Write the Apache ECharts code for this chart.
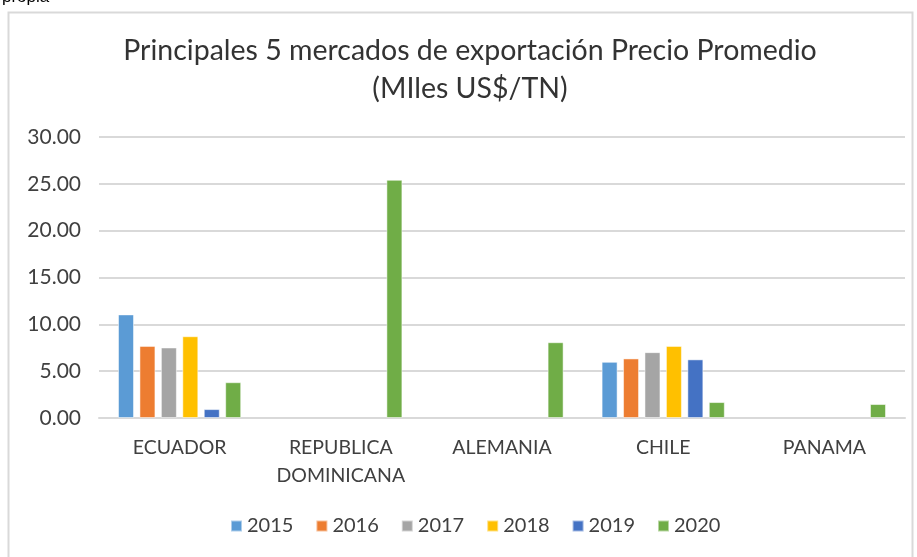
<!DOCTYPE html>
<html>
<head>
<meta charset="utf-8">
<script src="https://cdn.jsdelivr.net/npm/echarts@6/dist/echarts.min.js"></script>
<style>
  html, body { margin: 0; padding: 0; background: #fff; }
  #chart { width: 917px; height: 557px; }
</style>
</head>
<body>
<div id="chart"></div>
<script>
// mercados (eje x)
const categories = ["ECUADOR", "REPUBLICA\nDOMINICANA", "ALEMANIA", "CHILE", "PANAMA"];
const years = ["2015", "2016", "2017", "2018", "2019", "2020"];
const yTicks = [0, 5, 10, 15, 20, 25, 30];

// precio promedio (miles US$/TN) por año
const v2015 = [11.06, null, null, 6.0, null];
const v2016 = [7.7, null, null, 6.36, null];
const v2017 = [7.53, null, null, 7.03, null];
const v2018 = [8.73, null, null, 7.7, null];
const v2019 = [0.95, null, null, 6.26, null];
const v2020 = [3.82, 25.43, 8.09, 1.7, 1.49];

const seriesValues = [v2015, v2016, v2017, v2018, v2019, v2020];
const colors = ["#5B9BD5", "#ED7D31", "#A5A5A5", "#FFC000", "#4472C4", "#70AD47"];

const font = "Lato, 'Liberation Sans', sans-serif";

const chart = echarts.init(document.getElementById("chart"));

const option = {
  animation: false,
  color: colors,
  textStyle: { fontFamily: font },
  graphic: [
    {
      type: "rect",
      shape: { x: 8.5, y: 12.5, width: 904, height: 560 },
      style: { fill: "none", stroke: "#d9d9d9", lineWidth: 2 }
    },
    {
      type: "text",
      left: 2,
      top: -11,
      style: { text: "propia", font: "17px 'Liberation Sans', sans-serif", fill: "#000" }
    }
  ],
  title: {
    text: "Principales 5 mercados de exportación Precio Promedio\n(MIles US$/TN)",
    left: 470,
    top: 32,
    padding: 0,
    textAlign: "center",
    textStyle: {
      fontFamily: font,
      fontWeight: "normal",
      fontSize: 28.5,
      color: "#333",
      lineHeight: 38
    }
  },
  legend: {
    bottom: 16,
    left: 225,
    itemWidth: 11,
    itemHeight: 11,
    itemGap: 22,
    icon: "rect",
    textStyle: { fontSize: 20, color: "#404040", fontFamily: font },
    data: years
  },
  grid: {
    left: 99,
    right: 12,
    top: 137,
    bottom: 139
  },
  xAxis: {
    type: "category",
    data: categories,
    axisLine: { lineStyle: { color: "#d9d9d9", width: 2 } },
    axisTick: { show: false },
    axisLabel: {
      color: "#404040",
      fontSize: 19.5,
      lineHeight: 28,
      margin: 16,
      interval: 0
    }
  },
  yAxis: {
    type: "value",
    min: yTicks[0],
    max: yTicks[yTicks.length - 1],
    interval: 5,
    axisLine: { show: false },
    axisTick: { show: false },
    splitLine: { lineStyle: { color: "#d9d9d9", width: 2 } },
    axisLabel: {
      color: "#404040",
      fontSize: 21,
      margin: 18,
      formatter: (v) => v.toFixed(2)
    }
  },
  series: years.map((y, i) => ({
    name: y,
    type: "bar",
    data: seriesValues[i],
    barWidth: 16,
    barGap: "34%",
    itemStyle: { borderColor: "rgba(255,255,255,0.5)", borderWidth: 1 }
  }))
};

chart.setOption(option);
</script>
</body>
</html>
